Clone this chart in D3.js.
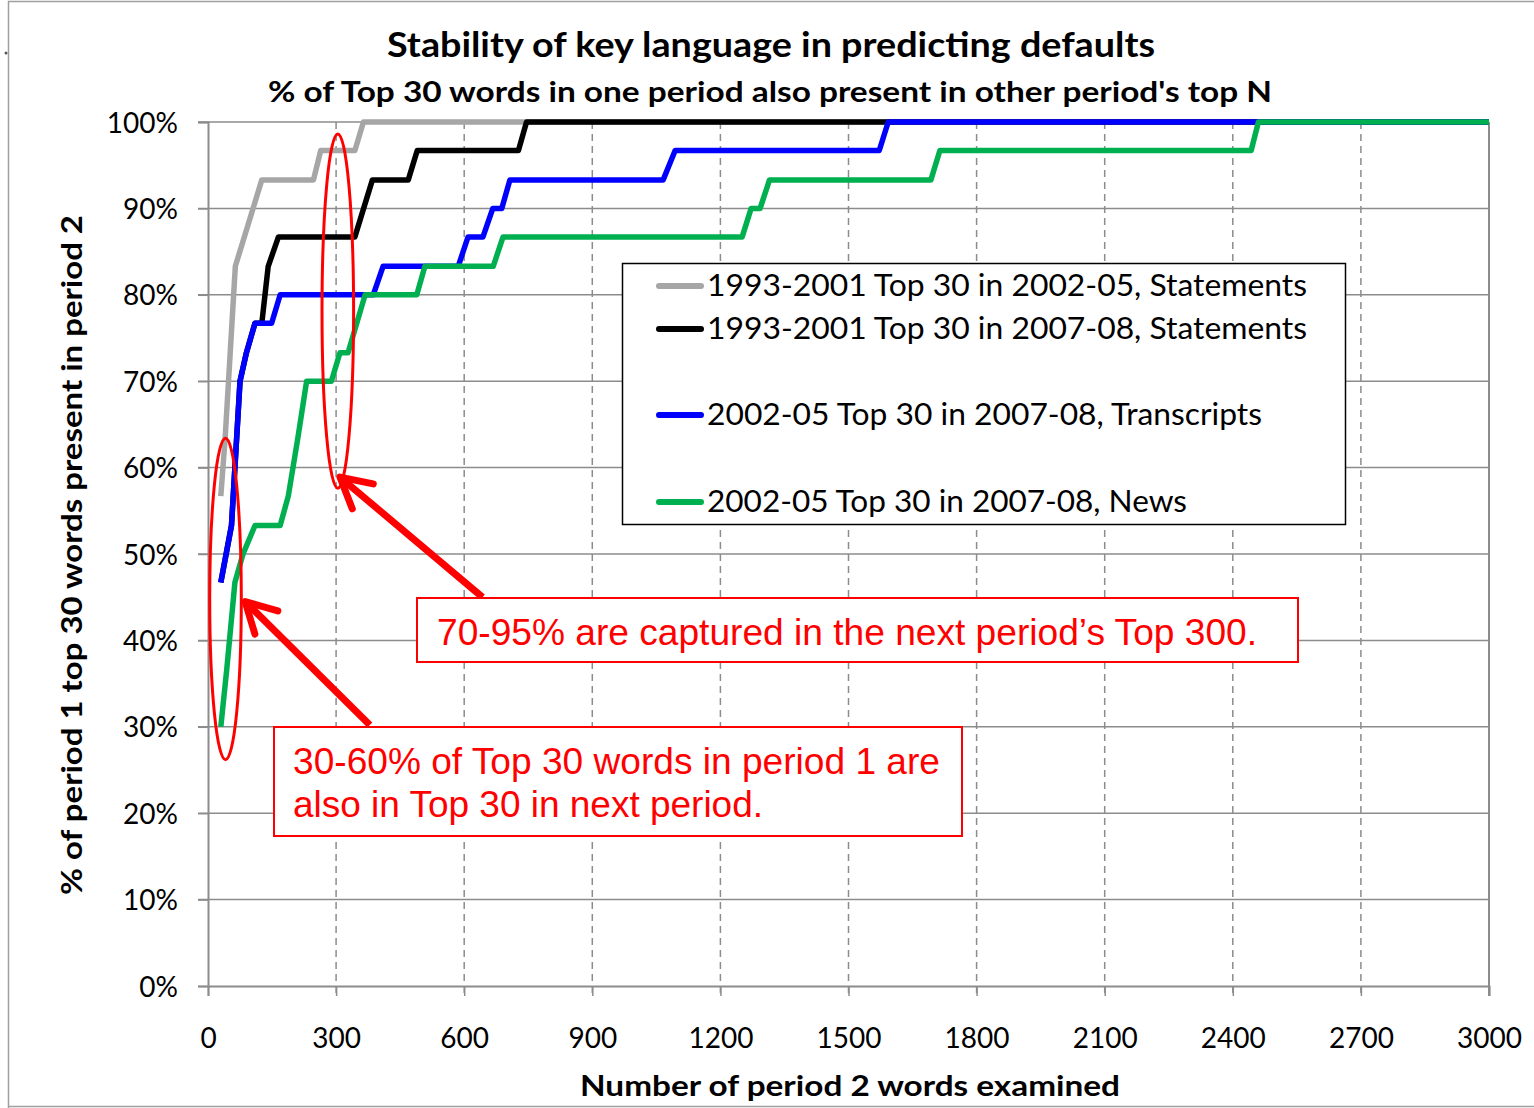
<!DOCTYPE html>
<html lang="en">
<head>
<meta charset="UTF-8">
<title>Stability of key language</title>
<style>
  body { margin: 0; background: #fff; }
</style>
</head>
<body>
<svg id="chart" width="1534" height="1108" font-family="Lato, 'Open Sans', sans-serif"></svg>
<script src="https://cdn.jsdelivr.net/npm/d3@7/dist/d3.min.js"></script>
<script>
// series: [words examined, % of top 30 present]
var grayStatements = [[30,56.7],[40,63.3],[64,83.3],[126,93.3],[247,93.3],[264,96.7],[344,96.7],[364,100],[3000,100]];
var blackStatements = [[30,46.7],[55,53.3],[75,70],[90,73.3],[110,76.7],[126,76.7],[141,83.3],[165,86.7],[344,86.7],[385,93.3],[469,93.3],[490,96.7],[727,96.7],[746,100],[3000,100]];
var blueTranscripts = [[30,46.7],[55,53.3],[75,70],[90,73.3],[110,76.7],[149,76.7],[169,80],[387,80],[410,83.3],[586,83.3],[609,86.7],[644,86.7],[667,90],[688,90],[707,93.3],[1066,93.3],[1094,96.7],[1572,96.7],[1593,100],[3000,100]];
var greenNews = [[30,30],[44,36.7],[63,46.7],[82,50],[110,53.3],[169,53.3],[188,56.7],[210,63.3],[231,70],[289,70],[309,73.3],[328,73.3],[368,80],[489,80],[508,83.3],[668,83.3],[691,86.7],[1251,86.7],[1272,90],[1293,90],[1315,93.3],[1693,93.3],[1714,96.7],[2443,96.7],[2460,100],[3000,100]];

var seriesNames = ["1993-2001 Top 30 in 2002-05, Statements", "1993-2001 Top 30 in 2007-08, Statements", "2002-05 Top 30 in 2007-08, Transcripts", "2002-05 Top 30 in 2007-08, News"];
var seriesColors = ["#a6a6a6", "#000000", "#0000ff", "#00b050"];
var seriesData = [grayStatements, blackStatements, blueTranscripts, greenNews];

var xTicks = [0,300,600,900,1200,1500,1800,2100,2400,2700,3000];
var yTicks = [0,10,20,30,40,50,60,70,80,90,100];

// annotation marks, in data units
var ellipses = [{x: 41, y: 44.8, rx: 37, ry: 18.6}, {x: 304, y: 78.1, rx: 37, ry: 20.5}];
var arrows = [{x1: 643, y1: 45.0, x2: 309, y2: 58.9}, {x1: 379, y1: 30.2, x2: 87, y2: 44.5}];

var svg = d3.select("#chart");
var margin = {left: 208, top: 122, right: 45, bottom: 122};
var width = 1534 - margin.left - margin.right,
    height = 1108 - margin.top - margin.bottom;

// outer frame
svg.append("path")
    .attr("d", "M 8.5 1108 L 8.5 1.5 L 1534 1.5 M 8.5 1106.5 L 1534 1106.5")
    .attr("fill", "none").attr("stroke", "#a0a0a0").attr("stroke-width", 1.5);
svg.append("circle").attr("cx", 6).attr("cy", 53).attr("r", 1.5).attr("fill", "#555");

var x = d3.scaleLinear().domain([0, 3000]).range([0, width]);
var y = d3.scaleLinear().domain([0, 100]).range([height, 0]);

var g = svg.append("g").attr("transform", "translate(" + margin.left + "," + margin.top + ")");

// horizontal grid
g.append("g").selectAll("line").data(yTicks.slice(1)).enter().append("line")
    .attr("x1", -10).attr("x2", width)
    .attr("y1", function (d) { return y(d); }).attr("y2", function (d) { return y(d); })
    .attr("stroke", "#8c8c8c").attr("stroke-width", 1.5);

// vertical dashed grid
g.append("g").selectAll("line").data(xTicks.slice(1, -1)).enter().append("line")
    .attr("x1", function (d) { return x(d); }).attr("x2", function (d) { return x(d); })
    .attr("y1", 0).attr("y2", height + 10)
    .attr("stroke", "#8c8c8c").attr("stroke-width", 1.5).attr("stroke-dasharray", "7,5");

// axes
var xAxis = g.append("g").attr("transform", "translate(0," + height + ")")
    .call(d3.axisBottom(x).tickValues(xTicks).tickSize(10).tickPadding(32).tickFormat(d3.format("d")));
var yAxis = g.append("g")
    .call(d3.axisLeft(y).tickValues(yTicks).tickSize(10).tickPadding(20).tickFormat(function (d) { return d + "%"; }));
[xAxis, yAxis].forEach(function (a) {
    a.select(".domain").attr("stroke", "#8c8c8c").attr("stroke-width", 2);
    a.selectAll(".tick line").attr("stroke", "#8c8c8c").attr("stroke-width", 1.5);
    a.selectAll(".tick text").attr("font-family", "Lato").attr("font-size", 28).attr("fill", "#000");
});
yAxis.selectAll(".tick text").attr("dy", "0.36em");
// right border
g.append("line").attr("x1", width).attr("x2", width).attr("y1", 0).attr("y2", height + 10)
    .attr("stroke", "#8c8c8c").attr("stroke-width", 2);

// series lines
var line = d3.line().x(function (d) { return x(d[0]); }).y(function (d) { return y(d[1]); });
g.append("g").selectAll("path").data(seriesData).enter().append("path")
    .attr("d", line)
    .attr("fill", "none")
    .attr("stroke", function (d, i) { return seriesColors[i]; })
    .attr("stroke-width", 5.5)
    .attr("stroke-linejoin", "round");

// titles (stretched to match the Calibri widths of the original)
function title(xp, yp, size, len, txt, rot) {
    var t = svg.append("text").attr("text-anchor", "middle")
        .attr("font-weight", "bold").attr("font-size", size)
        .attr("textLength", len).attr("lengthAdjust", "spacingAndGlyphs").text(txt);
    if (rot) t.attr("transform", "translate(" + xp + "," + yp + ") rotate(-90)");
    else t.attr("x", xp).attr("y", yp);
}
title(771, 57, 35, 768, "Stability of key language in predicting defaults");
title(770, 102, 29, 1004, "% of Top 30 words in one period also present in other period's top N");
title(850, 1096, 29, 540, "Number of period 2 words examined");
title(82, 555, 29, 680, "% of period 1 top 30 words present in period 2", true);

// legend
var legend = svg.append("g");
legend.append("rect").attr("x", 622.5).attr("y", 263.5).attr("width", 723).attr("height", 261)
    .attr("fill", "#fff").attr("stroke", "#000").attr("stroke-width", 1.5);
var legendY = [286, 329, 415, 502];
var legendLen = [600, 600, 555, 480];
seriesNames.forEach(function (name, i) {
    legend.append("line").attr("x1", 659).attr("x2", 701).attr("y1", legendY[i]).attr("y2", legendY[i])
        .attr("stroke", seriesColors[i]).attr("stroke-width", 6).attr("stroke-linecap", "round");
    legend.append("text").attr("x", 707).attr("y", legendY[i] + 10).attr("font-size", 31)
        .attr("textLength", legendLen[i]).attr("lengthAdjust", "spacingAndGlyphs").text(name);
});

// annotations
var red = "#ff0000";
var ann = g.append("g");
ann.selectAll("ellipse").data(ellipses).enter().append("ellipse")
    .attr("cx", function (d) { return x(d.x); }).attr("cy", function (d) { return y(d.y); })
    .attr("rx", function (d) { return x(d.rx); }).attr("ry", function (d) { return height - y(d.ry); })
    .attr("fill", "none").attr("stroke", red).attr("stroke-width", 3);

arrows.forEach(function (a) {
    var x1 = x(a.x1), y1 = y(a.y1), x2 = x(a.x2), y2 = y(a.y2);
    ann.append("line").attr("x1", x1).attr("y1", y1).attr("x2", x2).attr("y2", y2)
        .attr("stroke", red).attr("stroke-width", 7);
    var ang = Math.atan2(y1 - y2, x1 - x2), L = 34, s = 0.5;
    var p1 = [x2 + L * Math.cos(ang - s), y2 + L * Math.sin(ang - s)];
    var p2 = [x2 + L * Math.cos(ang + s), y2 + L * Math.sin(ang + s)];
    ann.append("path").attr("d", "M" + p1 + " L" + x2 + "," + y2 + " L" + p2)
        .attr("fill", "none").attr("stroke", red).attr("stroke-width", 7)
        .attr("stroke-linecap", "round").attr("stroke-linejoin", "round");
});

var arial = "'Liberation Sans', Arial, sans-serif";
function note(parent, xp, yp, len, txt) {
    parent.append("text").attr("x", xp).attr("y", yp).attr("font-family", arial)
        .attr("font-size", 36).attr("fill", red)
        .attr("textLength", len).attr("lengthAdjust", "spacingAndGlyphs").text(txt);
}
var box1 = svg.append("g");
box1.append("rect").attr("x", 417).attr("y", 598).attr("width", 881).attr("height", 64)
    .attr("fill", "#fff").attr("stroke", red).attr("stroke-width", 2);
note(box1, 437, 645, 820, "70-95% are captured in the next period’s Top 300.");

var box2 = svg.append("g");
box2.append("rect").attr("x", 274).attr("y", 727).attr("width", 688).attr("height", 109)
    .attr("fill", "#fff").attr("stroke", red).attr("stroke-width", 2);
note(box2, 293, 774, 647, "30-60% of Top 30 words in period 1 are");
note(box2, 293, 817, 470, "also in Top 30 in next period.");
</script>
</body>
</html>
